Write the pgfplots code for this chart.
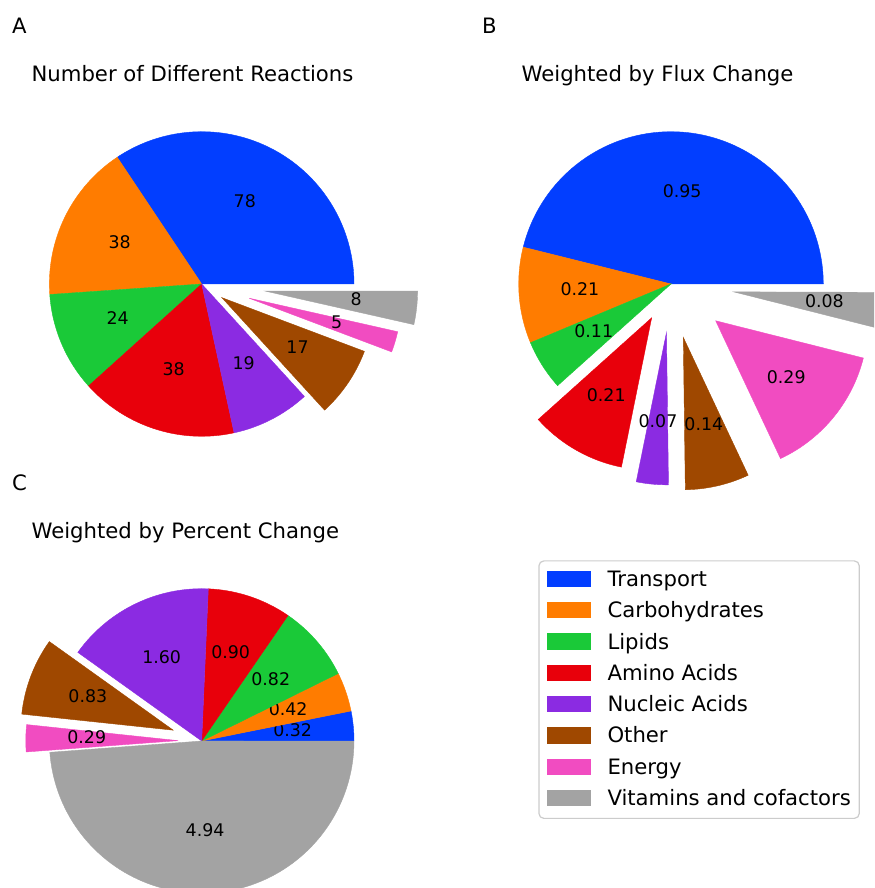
\documentclass[border=0pt]{standalone}
\usepackage{fontspec}
\setmainfont{DejaVu Sans}
\usepackage{pgfplots}
\pgfplotsset{compat=1.18}
\pgfkeys{/pgf/number format/assume math mode=true}

\definecolor{pie0}{HTML}{023EFF}
\definecolor{pie1}{HTML}{FF7C00}
\definecolor{pie2}{HTML}{1AC938}
\definecolor{pie3}{HTML}{E8000B}
\definecolor{pie4}{HTML}{8B2BE2}
\definecolor{pie5}{HTML}{9F4800}
\definecolor{pie6}{HTML}{F14CC1}
\definecolor{pie7}{HTML}{A3A3A3}

\tikzset{
  pielabel/.style={font=\fontsize{8.7}{10}\selectfont, text height=6.6pt, text depth=2.1pt, inner sep=0pt, anchor=center},
  ttl/.style={font=\fontsize{10.6}{12.7}\selectfont, anchor=base, inner sep=0pt},
  lett/.style={font=\fontsize{10.6}{12.7}\selectfont, anchor=base west, inner sep=0pt},
}

% pie radius in axis units (1 unit = 1 px of the reference)
\def\R{152.3}

% Order: Transport, Carbohydrates, Lipids, Amino Acids, Nucleic Acids, Other, Energy, Vitamins and cofactors
\def\valsA{78,38,24,38,19,17,5,8}
\def\explA{0,0,0,0,0,0.16,0.325,0.42}
\def\valsB{0.95,0.21,0.11,0.21,0.07,0.14,0.29,0.08}
\def\explB{0,0,0,0.256,0.32,0.36,0.38,0.415}
\def\valsC{0.32,0.42,0.82,0.90,1.60,0.83,0.29,4.94}
\def\explC{0,0,0,0,0,0.2,0.155,0}

\newcommand\drawpie[5]{%
  \def\pietot{0}%
  \pgfplotsforeachungrouped \i in {0,1,2,3,4,5,6,7}{%
    \edef\tmp{\noexpand\pgfmathsetmacro\noexpand\pieval{{#3}[\i]}}\tmp
    \pgfmathsetmacro\pietot{\pietot+\pieval}%
  }%
  \def\piestart{0}%
  \pgfplotsforeachungrouped \i in {0,1,2,3,4,5,6,7}{%
    \edef\tmp{\noexpand\pgfmathsetmacro\noexpand\pieval{{#3}[\i]}%
      \noexpand\pgfmathsetmacro\noexpand\pieexp{{#4}[\i]}}\tmp
    \pgfmathsetmacro\piefrac{\pieval/\pietot}%
    \pgfmathsetmacro\pieend{\piestart+360*\piefrac}%
    \pgfmathsetmacro\piemid{(\piestart+\pieend)/2}%
    \pgfmathsetmacro\piecx{#1+\pieexp*\R*cos(\piemid)}%
    \pgfmathsetmacro\piecy{#2+\pieexp*\R*sin(\piemid)}%
    \pgfmathsetmacro\pielx{\piecx+0.6*\R*cos(\piemid)}%
    \pgfmathsetmacro\piely{\piecy+0.6*\R*sin(\piemid)}%
    \edef\tmp{%
      \noexpand\addplot[forget plot, fill=pie\i, draw=pie\i, line width=0.2pt,
        domain=\piestart:\pieend, samples=90]
        ({\piecx+\R*cos(x)},{\piecy+\R*sin(x)})
        -- (axis cs:\piecx,\piecy) -- cycle;
      \noexpand\node[pielabel] at (axis cs:\pielx,\piely)
        {\noexpand\pgfmathprintnumber[fixed,precision=#5,fixed zerofill]{\pieval}};%
    }\tmp
    \let\piestart\pieend
  }%
}

\begin{document}
\begin{tikzpicture}
\begin{axis}[
  name=ax,
  scale only axis, width=437pt, height=444pt,
  xmin=0, xmax=874, ymin=0, ymax=888,
  hide axis, clip=true,
  legend image code/.code={\fill[#1, sharp corners] (0pt,-2.8pt) rectangle (21.3pt,4.7pt);},
  legend cell align=left,
  legend style={at={(axis cs:538.3,327.7)}, anchor=north west,
    draw=black!20, rounded corners=2.5pt, line width=0.6pt,
    font=\fontsize{10.6}{12.7}\selectfont,
    inner xsep=4.2pt, inner ysep=5pt, row sep=6.45pt, column sep=8.2pt,
    nodes={text height=7pt, text depth=1.4pt, inner sep=0pt},
    cells={anchor=west}},
]
\path (axis cs:0,0) rectangle (axis cs:874,888);

\drawpie{201.7}{604}{\valsA}{\explA}{0}
\drawpie{671}{604}{\valsB}{\explB}{2}
\drawpie{201.7}{147}{\valsC}{\explC}{2}

\node[ttl] at (axis cs:192.5,806.7) {Number of Different Reactions};
\node[ttl] at (axis cs:657.5,806.7) {Weighted by Flux Change};
\node[ttl] at (axis cs:185.3,349) {Weighted by Percent Change};

\node[lett] at (axis cs:11.7,854.7) {A};
\node[lett] at (axis cs:481.7,854.7) {B};
\node[lett] at (axis cs:11.7,397) {C};

\addlegendimage{pie0}\addlegendentry{Transport}
\addlegendimage{pie1}\addlegendentry{Carbohydrates}
\addlegendimage{pie2}\addlegendentry{Lipids}
\addlegendimage{pie3}\addlegendentry{Amino Acids}
\addlegendimage{pie4}\addlegendentry{Nucleic Acids}
\addlegendimage{pie5}\addlegendentry{Other}
\addlegendimage{pie6}\addlegendentry{Energy}
\addlegendimage{pie7}\addlegendentry{Vitamins and cofactors}
\end{axis}
\pgfresetboundingbox
\useasboundingbox (ax.south west) rectangle (ax.north east);
\end{tikzpicture}
\end{document}
